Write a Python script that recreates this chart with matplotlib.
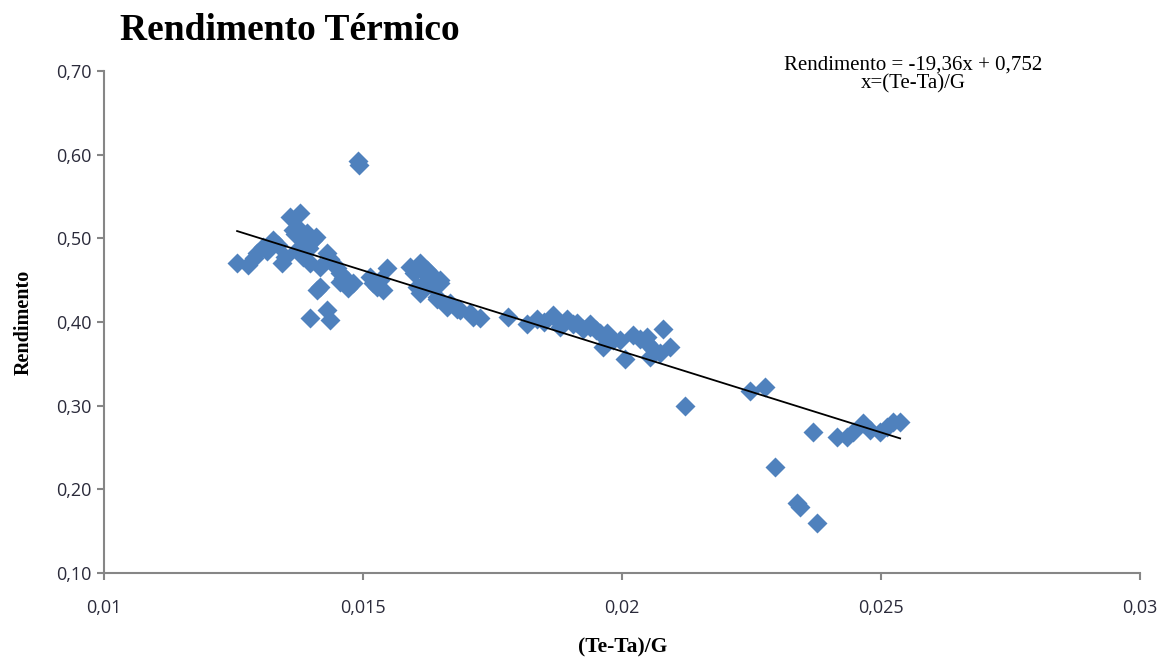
import matplotlib
matplotlib.use("Agg")
import matplotlib.pyplot as plt
import numpy as np
from matplotlib.ticker import FuncFormatter

# values
x_vals = [
    0.01257, 0.01278, 0.01290, 0.01295, 0.01307, 0.01315, 0.01326, 0.01335, 0.01344, 0.01350,
    0.01359, 0.01365, 0.01373, 0.01378, 0.01380, 0.01373, 0.01384, 0.01392, 0.01398, 0.01403,
    0.01410, 0.01417, 0.01411, 0.01417, 0.01430, 0.01436, 0.01442, 0.01450, 0.01456, 0.01462,
    0.01469, 0.01475, 0.01481, 0.01398, 0.01430, 0.01436, 0.01490, 0.01493,
    0.01388, 0.01368, 0.01395, 0.01455, 0.01472,
    0.01514, 0.01520, 0.01533, 0.01539, 0.01546, 0.01528,
    0.01591, 0.01598, 0.01604, 0.01610, 0.01610, 0.01617, 0.01624, 0.01629, 0.01635, 0.01643,
    0.01649, 0.01649, 0.01643, 0.01662, 0.01668, 0.01681, 0.01687, 0.01707, 0.01712, 0.01726,
    0.01620, 0.01638,
    0.01780, 0.01817, 0.01836, 0.01850, 0.01867, 0.01875, 0.01880, 0.01894, 0.01905, 0.01913,
    0.01925, 0.01938, 0.01938, 0.01950, 0.01958, 0.01971, 0.01963, 0.01977, 0.01983, 0.01997,
    0.02006, 0.02021, 0.02035, 0.02048, 0.02048, 0.02055, 0.02060, 0.02073, 0.02080, 0.02093,
    0.02122, 0.02247, 0.02276, 0.02295, 0.02338, 0.02344, 0.02369, 0.02376, 0.02415, 0.02434,
    0.02446, 0.02465, 0.02479, 0.02498, 0.02512, 0.02523, 0.02537,
]
y_vals = [
    0.471, 0.468, 0.476, 0.483, 0.490, 0.485, 0.498, 0.492, 0.471, 0.478,
    0.525, 0.510, 0.514, 0.530, 0.500, 0.486, 0.478, 0.506, 0.471, 0.498,
    0.502, 0.466, 0.438, 0.442, 0.483, 0.475, 0.471, 0.465, 0.459, 0.452,
    0.450, 0.445, 0.447, 0.405, 0.414, 0.402, 0.592, 0.588,
    0.494, 0.505, 0.488, 0.448, 0.441,
    0.454, 0.447, 0.450, 0.438, 0.465, 0.442,
    0.466, 0.458, 0.442, 0.471, 0.435, 0.460, 0.462, 0.459, 0.454, 0.430,
    0.450, 0.447, 0.427, 0.418, 0.423, 0.415, 0.414, 0.411, 0.406, 0.405,
    0.448, 0.440,
    0.406, 0.397, 0.403, 0.400, 0.408, 0.402, 0.394, 0.403, 0.398, 0.399,
    0.392, 0.397, 0.394, 0.390, 0.387, 0.387, 0.370, 0.382, 0.379, 0.379,
    0.356, 0.384, 0.380, 0.382, 0.375, 0.358, 0.368, 0.363, 0.392, 0.370,
    0.299, 0.318, 0.322, 0.227, 0.184, 0.179, 0.269, 0.160, 0.262, 0.262,
    0.268, 0.279, 0.271, 0.268, 0.275, 0.281, 0.281,
]
slope = -19.36
intercept = 0.752
x_ticks = [0.01, 0.015, 0.02, 0.025, 0.03]
y_ticks = [0.10, 0.20, 0.30, 0.40, 0.50, 0.60, 0.70]

fig = plt.figure(figsize=(11.63, 6.57), dpi=100)
ax = fig.add_axes([0.0894, 0.1279, 0.8908, 0.7641])

ax.plot(x_vals, y_vals, linestyle="none", marker="D", ms=10.5, color="#4F81BD", mec="none")

# trend line from the fitted equation
xl = np.array([min(x_vals), max(x_vals)])
ax.plot(xl, slope * xl + intercept, color="black", lw=1.3)

ax.set_xlim(0.01, 0.03)
ax.set_ylim(0.10, 0.70)
ax.set_xticks(x_ticks)
ax.set_yticks(y_ticks)
ax.xaxis.set_major_formatter(FuncFormatter(lambda v, p: ("%g" % v).replace(".", ",")))
ax.yaxis.set_major_formatter(FuncFormatter(lambda v, p: ("%.2f" % v).replace(".", ",")))

for s in ["top", "right"]:
    ax.spines[s].set_visible(False)
for s in ["left", "bottom"]:
    ax.spines[s].set_color("#868686")
    ax.spines[s].set_linewidth(1.5)
ax.tick_params(direction="out", length=5, width=1.5, color="#868686",
               labelsize=13, labelcolor="#2a2a3a", pad=4)
ax.tick_params(axis="x", pad=14)
for lab in ax.get_xticklabels() + ax.get_yticklabels():
    lab.set_family("Open Sans")

ax.set_xlabel("(Te-Ta)/G", family="Liberation Serif", weight="bold", fontsize=15.5)
ax.set_ylabel("Rendimento", family="Liberation Serif", weight="bold", fontsize=14.5)
ax.xaxis.set_label_coords(0.501, -0.128)
ax.yaxis.set_label_coords(-0.068, 0.5)

fig.text(120 / 1163, 1 - 31 / 657, "Rendimento Térmico", family="Liberation Serif",
         weight="bold", fontsize=27, va="center", ha="left")
fig.text(913 / 1163, 1 - 65 / 657, "Rendimento = -19,36x + 0,752", family="Liberation Serif",
         fontsize=15, va="center", ha="center")
fig.text(913 / 1163, 1 - 84 / 657, "x=(Te-Ta)/G", family="Liberation Serif",
         fontsize=15, va="center", ha="center")

fig.savefig("out.png", dpi=100)
